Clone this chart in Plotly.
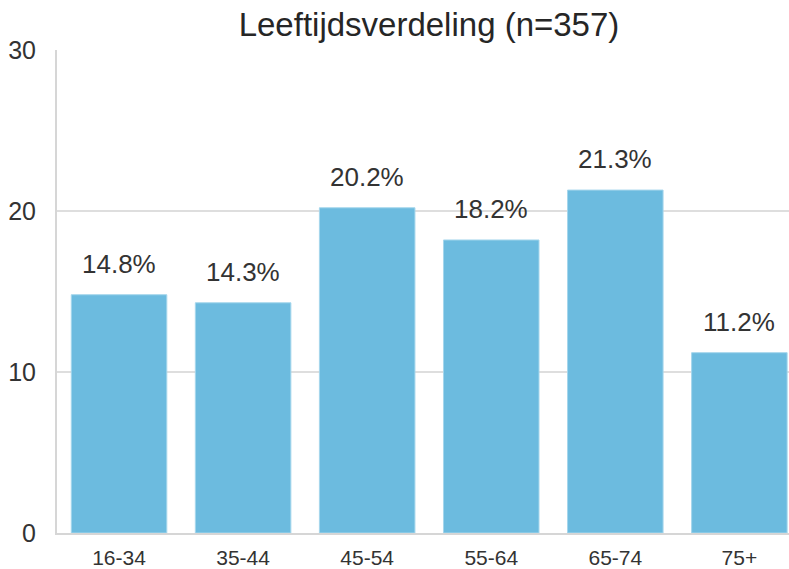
import plotly.graph_objects as go

categories = ["16-34", "35-44", "45-54", "55-64", "65-74", "75+"]
percentages = [14.8, 14.3, 20.2, 18.2, 21.3, 11.2]
labels = [f"{v:.1f}%" for v in percentages]
title_text = "Leeftijdsverdeling (n=357)"

FONT = "Liberation Sans, Arial, sans-serif"

fig = go.Figure()
fig.add_trace(go.Bar(
    x=list(range(len(categories))), y=percentages,
    marker=dict(color="#6cbbdf", line=dict(color="#a5d6ec", width=1)),
    width=0.77, showlegend=False, hoverinfo="skip",
))
for i, (v, t) in enumerate(zip(percentages, labels)):
    fig.add_annotation(x=i, y=v, text=t, showarrow=False, yshift=31,
                       font=dict(size=26, color="#333333", family=FONT))

fig.update_layout(
    width=789, height=569,
    margin=dict(l=57, r=0, t=50, b=36),
    plot_bgcolor="white", paper_bgcolor="white",
    font=dict(family=FONT, color="#333333"),
    title=dict(text=title_text, x=429 / 789, xref="container", xanchor="center",
               y=1 - 24 / 569, yref="container", yanchor="middle",
               font=dict(size=33, color="#262626", family=FONT)),
    xaxis=dict(range=[-0.5, 5.4], tickmode="array", tickvals=list(range(len(categories))),
               ticktext=categories, showgrid=False, zeroline=False,
               showline=True, linecolor="#d6d6d6", linewidth=2,
               tickfont=dict(size=21, color="#333333"), ticks="", ticklabelstandoff=5),
    yaxis=dict(range=[0, 30], tickvals=[0, 10, 20, 30], showgrid=True,
               gridcolor="#dedede", gridwidth=1.5, zeroline=False,
               showline=True, linecolor="#d6d6d6", linewidth=2,
               tickfont=dict(size=25, color="#333333"), ticks="", ticklabelstandoff=14),
)
fig.write_html("out.html", config={"displayModeBar": False, "staticPlot": True},
               post_script="document.body.style.margin='0';document.body.style.overflow='hidden';")
